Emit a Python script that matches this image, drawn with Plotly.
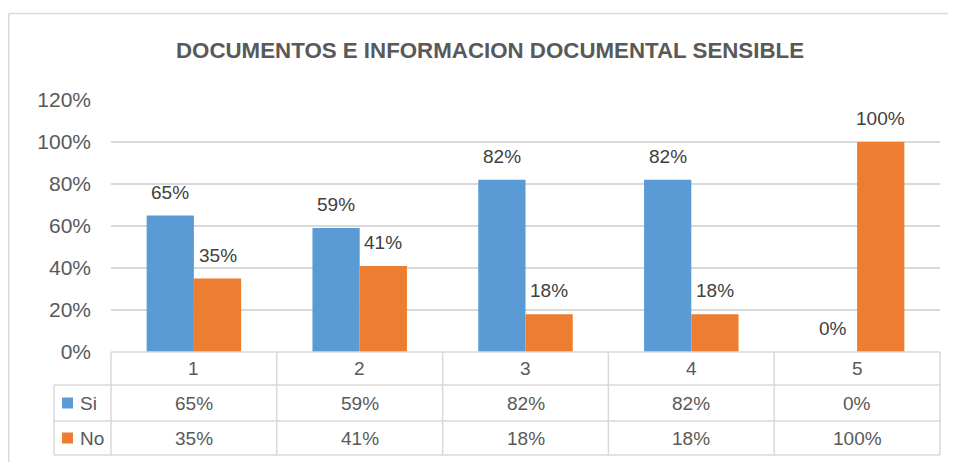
import plotly.graph_objects as go

categories = [1, 2, 3, 4, 5]
series_names = ["Si", "No"]
si_values = [0.65, 0.59, 0.82, 0.82, 0.00]
no_values = [0.35, 0.41, 0.18, 0.18, 1.00]
y_tick_vals = [0, 0.2, 0.4, 0.6, 0.8, 1.0, 1.2]
y_tick_text = ["0%", "20%", "40%", "60%", "80%", "100%", "120%"]
title_text = "DOCUMENTOS E INFORMACION DOCUMENTAL SENSIBLE"

colors = ["#5B9BD5", "#ED7D31"]
text_color = "#595959"
label_color = "#404040"
grid_color = "#D9D9D9"
font_family = "Liberation Sans, Arial, sans-serif"

# the page body adds an 8px margin, so the figure is drawn 8px smaller
OFF = 8
W, H = 956 - OFF, 462 - OFF
L, R, T, B = 111 - OFF, 16, 100 - OFF, 110
pw, ph = W - L - R, H - T - B
bargap = 0.43


def pxx(px):
    # px given in reference-screen coordinates
    return (px - OFF - L) / pw


def pxy(py):
    return (T + ph - (py - OFF)) / ph


fig = go.Figure()
values = [si_values, no_values]
for name, vals, col in zip(series_names, values, colors):
    fig.add_trace(go.Bar(x=categories, y=vals, name=name, marker_color=col,
                         marker_line_width=0, showlegend=False))

annotations = []
shapes = []
half = (1 - bargap) / 4
# bar value labels
for vals, sign in zip(values, [-1, 1]):
    for c, v in zip(categories, vals):
        annotations.append(dict(x=c + sign * half, y=v, xref="x", yref="y",
                                text=f"{v:.0%}", showarrow=False,
                                yanchor="bottom", yshift=11,
                                font=dict(size=19, color=label_color, family=font_family)))

# data table
n = len(categories)
row_tops = [352, 385, 421, 455]
legend_left = 54
line_style = dict(color=grid_color, width=1.5)
shapes.append(dict(type="line", xref="paper", yref="paper", x0=0, x1=1,
                   y0=pxy(row_tops[0]), y1=pxy(row_tops[0]), line=line_style))
for py in row_tops[1:]:
    shapes.append(dict(type="line", xref="paper", yref="paper", x0=pxx(legend_left), x1=1,
                       y0=pxy(py), y1=pxy(py), line=line_style))
for i in range(n + 1):
    xp = i / n
    shapes.append(dict(type="line", xref="paper", yref="paper", x0=xp, x1=xp,
                       y0=pxy(row_tops[0]), y1=pxy(row_tops[-1]), line=line_style))
shapes.append(dict(type="line", xref="paper", yref="paper", x0=pxx(legend_left), x1=pxx(legend_left),
                   y0=pxy(row_tops[1]), y1=pxy(row_tops[-1]), line=line_style))

cell_font = dict(size=19, color=text_color, family=font_family)
hy = pxy((row_tops[0] + row_tops[1]) / 2)
for c in categories:
    annotations.append(dict(x=c, y=hy, xref="x", yref="paper", text=str(c), showarrow=False,
                            yanchor="middle", font=cell_font))
for r, (name, vals, col) in enumerate(zip(series_names, values, colors)):
    cy = pxy((row_tops[r + 1] + row_tops[r + 2]) / 2)
    for c, v in zip(categories, vals):
        annotations.append(dict(x=c, y=cy, xref="x", yref="paper", text=f"{v:.0%}",
                                showarrow=False, yanchor="middle", font=cell_font))
    shapes.append(dict(type="rect", xref="paper", yref="paper",
                       x0=pxx(62), x1=pxx(73), y0=cy - 5.5 / ph, y1=cy + 5.5 / ph,
                       fillcolor=col, line=dict(width=0)))
    annotations.append(dict(x=pxx(78), y=cy, xref="paper", yref="paper", text=name,
                            showarrow=False, xanchor="left", yanchor="middle", font=cell_font))

# outer chart frame (top and left edges visible)
frame = dict(color=grid_color, width=1.5)
shapes.append(dict(type="line", xref="paper", yref="paper", x0=pxx(8.5), x1=pxx(970),
                   y0=pxy(13.5), y1=pxy(13.5), line=frame))
shapes.append(dict(type="line", xref="paper", yref="paper", x0=pxx(8.8), x1=pxx(8.8),
                   y0=pxy(13.5), y1=pxy(480), line=frame))

fig.update_layout(
    width=W, height=H,
    margin=dict(l=L, r=R, t=T, b=B, pad=0),
    paper_bgcolor="white", plot_bgcolor="white",
    barmode="group", bargap=bargap, bargroupgap=0,
    title=dict(text=f"<b>{title_text}</b>", x=(490 - OFF) / W, xanchor="center",
               y=1 - (50 - OFF) / H, yanchor="middle",
               font=dict(size=22.3, color=text_color, family=font_family)),
    xaxis=dict(range=[0.5, 5.5], showticklabels=False, showgrid=False, zeroline=False,
               showline=False, ticks=""),
    yaxis=dict(range=[0, 1.2], tickvals=y_tick_vals, ticktext=y_tick_text,
               showgrid=True, gridcolor=grid_color, gridwidth=1.5, zeroline=False,
               showline=False, ticks="", ticklabelstandoff=19,
               tickfont=dict(size=21, color=text_color, family=font_family)),
    annotations=annotations, shapes=shapes,
)

fig.write_html("out.html")
